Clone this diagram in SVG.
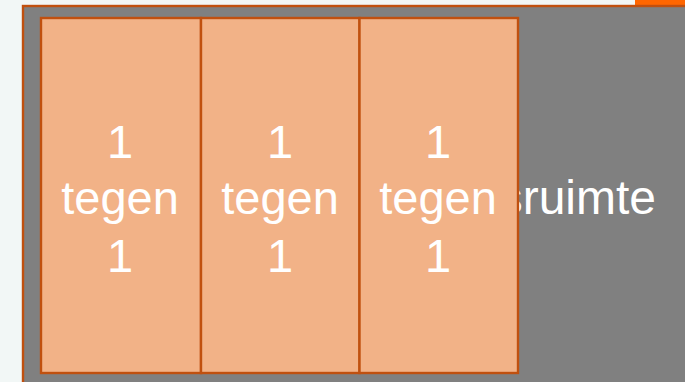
<svg xmlns="http://www.w3.org/2000/svg" width="685" height="382" viewBox="0 0 685 382">
  <style>
    .box { fill: #f2b287; stroke: #c0500f; stroke-width: 2.4; }
    .lbl { font-family: "Liberation Sans", Arial, sans-serif; font-size: 47px; fill: #ffffff; text-anchor: middle; }
  </style>
  <rect x="0" y="0" width="685" height="382" fill="#f2f7f6"/>
  <rect x="635" y="0" width="50" height="6" fill="#ff6600"/>
  <g id="space">
    <rect x="23" y="6" width="680" height="390" fill="#808080" stroke="#c0500f" stroke-width="2.4"/>
    <text x="656" y="214" font-family="Liberation Sans, Arial, sans-serif" font-size="48" fill="#ffffff" text-anchor="end">sruimte</text>
  </g>
  <g id="box1">
    <rect class="box" x="41" y="18" width="160" height="355"/>
    <text class="lbl" x="120"><tspan x="120" y="158">1</tspan><tspan x="120" y="214">tegen</tspan><tspan x="120" y="272">1</tspan></text>
  </g>
  <g id="box2">
    <rect class="box" x="201" y="18" width="158.5" height="355"/>
    <text class="lbl" x="280"><tspan x="280" y="158">1</tspan><tspan x="280" y="214">tegen</tspan><tspan x="280" y="272">1</tspan></text>
  </g>
  <g id="box3">
    <rect class="box" x="359.5" y="18" width="158.5" height="355"/>
    <text class="lbl" x="438"><tspan x="438" y="158">1</tspan><tspan x="438" y="214">tegen</tspan><tspan x="438" y="272">1</tspan></text>
  </g>
  <g id="connectors"></g>
</svg>
